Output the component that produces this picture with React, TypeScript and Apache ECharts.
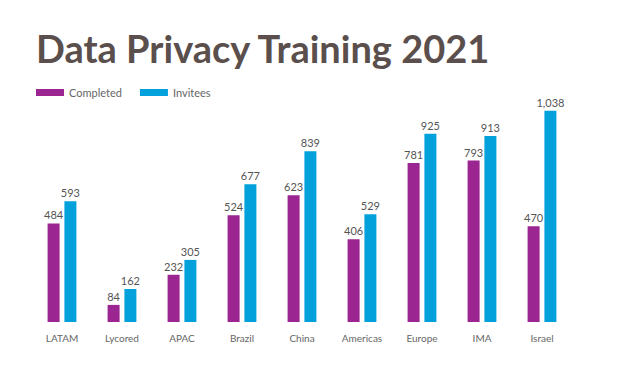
import React, { useEffect, useRef } from "react";
import * as echarts from "echarts";

const categories = ["LATAM", "Lycored", "APAC", "Brazil", "China", "Americas", "Europe", "IMA", "Israel"];
const completed = [484, 84, 232, 524, 623, 406, 781, 793, 470];
const invitees = [593, 162, 305, 677, 839, 529, 925, 913, 1038];

export default function App() {
  const ref = useRef<HTMLDivElement>(null);
  useEffect(() => {
    const chart = echarts.init(ref.current!, null, { renderer: "svg" });
    const font = "Lato, 'Noto Sans', sans-serif";
    chart.setOption({
      animation: false,
      backgroundColor: "#ffffff",
      title: {
        text: "Data Privacy Training 2021",
        left: 31,
        top: 24,
        textStyle: { fontFamily: font, fontSize: 38, fontWeight: "bold", color: "#5a4f4c" },
      },
      legend: {
        left: 31,
        top: 82,
        itemWidth: 28,
        itemHeight: 7,
        itemGap: 18,
        icon: "rect",
        textStyle: { fontFamily: font, fontSize: 11, color: "#666" },
        data: ["Completed", "Invitees"],
      },
      grid: { left: 32, right: 60, top: 98, bottom: 48 },
      xAxis: {
        type: "category",
        data: categories,
        axisLine: { show: false },
        axisTick: { show: false },
        axisLabel: { fontFamily: font, fontSize: 10, color: "#666", margin: 11 },
      },
      yAxis: {
        type: "value",
        min: 0,
        max: 1100,
        show: false,
        splitLine: { show: false },
      },
      series: [
        {
          name: "Completed",
          type: "bar",
          data: completed,
          barWidth: 12,
          barGap: "40%",
          itemStyle: { color: "#9b2591" },
          label: {
            show: true,
            position: "top",
            distance: 3,
            fontFamily: font,
            fontSize: 11,
            color: "#555",
            formatter: (p: any) => p.value.toLocaleString("en-US"),
          },
        },
        {
          name: "Invitees",
          type: "bar",
          data: invitees,
          barWidth: 12,
          itemStyle: { color: "#03a1dc" },
          label: {
            show: true,
            position: "top",
            distance: 3,
            fontFamily: font,
            fontSize: 11,
            color: "#555",
            formatter: (p: any) => p.value.toLocaleString("en-US"),
          },
        },
      ],
    });
    return () => chart.dispose();
  }, []);
  return <div ref={ref} style={{ width: 632, height: 370, position: "fixed", left: 0, top: 0 }} />;
}
